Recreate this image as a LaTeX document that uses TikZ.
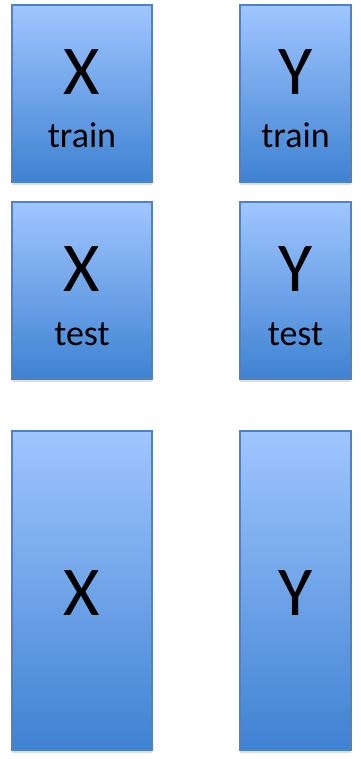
\documentclass[tikz,border=0pt]{standalone}
\usepackage{fontspec}
\setmainfont{Carlito}
\usetikzlibrary{shadows,calc}
\definecolor{boxtop}{RGB}{160,198,255}
\definecolor{boxmid}{RGB}{136,180,245}
\definecolor{boxbot}{RGB}{62,130,210}
\definecolor{boxline}{RGB}{80,130,195}
\tikzset{
  databox/.style={draw=boxline, line width=1.2pt, top color=boxtop, middle color=boxmid, bottom color=boxbot,
    drop shadow={shadow xshift=0pt, shadow yshift=-3pt, opacity=0.25}},
  bigletter/.style={font=\fontsize{70}{70}\selectfont, anchor=center, inner sep=0pt},
  smalltext/.style={font=\fontsize{36}{36}\selectfont, anchor=base, inner sep=0pt}
}
\begin{document}
\begin{tikzpicture}[x=1pt,y=-1pt]
\useasboundingbox (0,0) rectangle (360,759);
% boxes
\path[databox] (12,5) rectangle (152,182);
\path[databox] (240,5) rectangle (351,182);
\path[databox] (12,202) rectangle (152,379);
\path[databox] (240,202) rectangle (351,379);
\path[databox] (12,431) rectangle (152,750);
\path[databox] (240,431) rectangle (351,750);
% labels
\node[bigletter] (xtr) at (82,72) {X};
\node[smalltext] (xtrs) at (82,148) {train};
\node[bigletter] (ytr) at (295.5,72) {Y};
\node[smalltext] (ytrs) at (295.5,148) {train};
\node[bigletter] (xte) at (82,269) {X};
\node[smalltext] (xtes) at (82,345) {test};
\node[bigletter] (yte) at (295.5,269) {Y};
\node[smalltext] (ytes) at (295.5,345) {test};
\node[bigletter] (xall) at (82,593) {X};
\node[bigletter] (yall) at (295.5,593) {Y};
\end{tikzpicture}
\end{document}
